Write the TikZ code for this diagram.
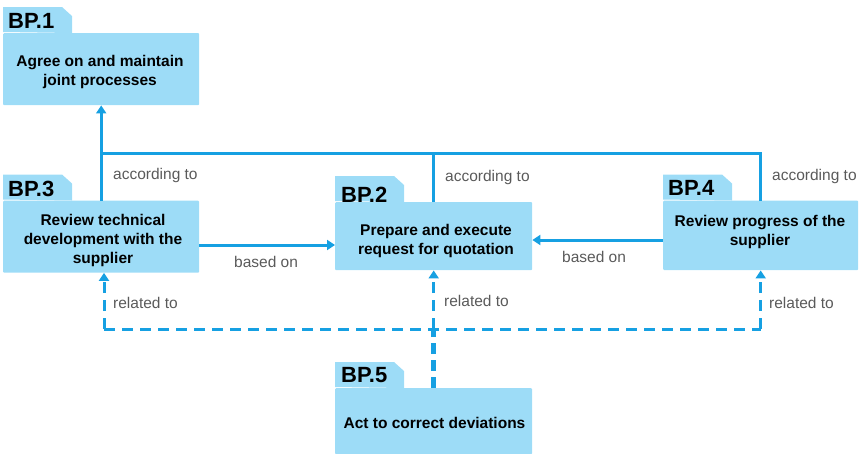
\documentclass[tikz,border=0pt]{standalone}
\usepackage{fontspec}
\setmainfont{Liberation Sans}
\usetikzlibrary{arrows.meta}
\definecolor{boxfill}{RGB}{157,220,247}
\definecolor{linec}{RGB}{22,160,226}
\definecolor{labc}{RGB}{90,90,90}
\tikzset{
 body/.style={fill=boxfill, inner sep=0pt, anchor=north west, rounded corners=1pt},
 bptext/.style={font=\fontsize{22}{24}\selectfont\bfseries, anchor=west, inner sep=0pt},
 boxtext/.style={font=\fontsize{15.5}{19}\selectfont\bfseries, align=center, inner sep=0pt},
 lab/.style={font=\fontsize{15.5}{18}\selectfont, text=labc, anchor=west, inner sep=0pt},
 conn/.style={draw=linec, line width=3pt},
 dconn/.style={conn, dash pattern=on 11pt off 7pt},
 tip/.style={-{Triangle[length=8pt,width=10pt]}}
}
\newcommand{\foldertab}[1]{%
  \fill[boxfill] ([yshift=1pt]#1.north west) -- ++(0,-25) -- ++(59,0) -- ++(10,9) -- ++(0,17) -- cycle;}
\begin{document}
\begin{tikzpicture}[x=1pt,y=-1pt]
\useasboundingbox (0,0) rectangle (862,453);
% bodies
\node[body, minimum width=196pt, minimum height=72pt] (b1) at (3,33) {};
\node[body, minimum width=196pt, minimum height=72pt] (b3) at (3,200.5) {};
\node[body, minimum width=197pt, minimum height=68pt] (b2) at (335,202) {};
\node[body, minimum width=195pt, minimum height=69.5pt] (b4) at (663,200.5) {};
\node[body, minimum width=197pt, minimum height=66pt] (b5) at (335,388) {};
\foreach \b in {b1,b2,b3,b4,b5} {\foldertab{\b}}
% BP labels
\node[bptext] (p1) at (8,20.5) {BP.1};
\node[bptext] (p3) at (8,188.5) {BP.3};
\node[bptext] (p2) at (341,194.5) {BP.2};
\node[bptext] (p4) at (668,187.5) {BP.4};
\node[bptext] (p5) at (341,375) {BP.5};
% texts
\node[boxtext] (t1) at (100,72) {Agree on and maintain\\joint processes};
\node[boxtext] (t3) at (103,240) {Review technical\\development with the\\supplier};
\node[boxtext] (t2) at (436,241) {Prepare and execute\\request for quotation};
\node[boxtext] (t4) at (760,231.5) {Review progress of the\\supplier};
\node[boxtext] (t5) at (434.5,423) {Act to correct deviations};
% solid connectors
\draw[conn] (b3.north) |- (b4.north |- 0,153) -- (b4.north);
\draw[conn] (b2.north) -- (b2.north |- 0,153);
\draw[conn,tip] (b3.north |- 0,153) -- (b1.south);
\draw[conn,tip] (b3.east |- 0,245) -- (b2.west |- 0,245);
\draw[conn,tip] (b4.west |- 0,240) -- (b2.east |- 0,240);
% dashed connectors
\coordinate (d3) at (104,329);
\draw[dconn] (d3) -- (b4.south |- d3);
\draw[dconn,tip] (d3) -- (d3 |- b3.south);
\draw[dconn,tip] (b2.south |- d3) -- (b2.south);
\draw[dconn,tip] (b4.south |- d3) -- (b4.south);
\draw[dconn, line width=4.5pt, dash pattern=on 11pt off 6pt] (b5.north) -- (b5.north |- d3);
% labels
\node[lab] (l1) at (113,175) {according to};
\node[lab] (l2) at (445,177) {according to};
\node[lab] (l3) at (772,176) {according to};
\node[lab] (l4) at (234,262) {based on};
\node[lab] (l5) at (562,257) {based on};
\node[lab] (l6) at (113,303) {related to};
\node[lab] (l7) at (444,301) {related to};
\node[lab] (l8) at (769,303) {related to};
\end{tikzpicture}
\end{document}
